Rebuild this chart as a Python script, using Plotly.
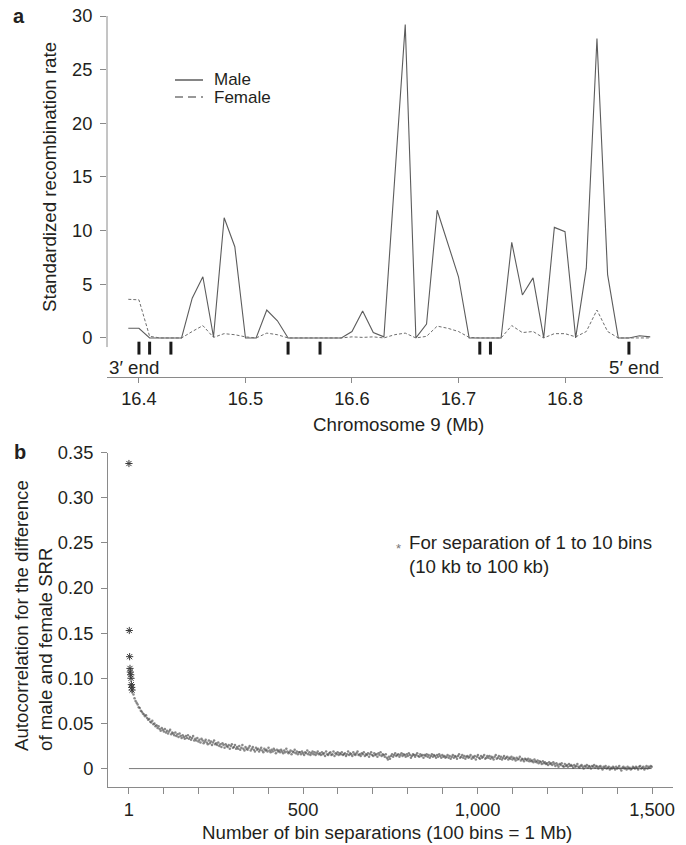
import plotly.graph_objects as go

# ---- panel a: standardized recombination rate, 10-kb bins on chromosome 9
positions_mb = [16.39, 16.40, 16.41, 16.42, 16.43, 16.44, 16.45, 16.46, 16.47, 16.48,
                16.49, 16.50, 16.51, 16.52, 16.53, 16.54, 16.55, 16.56, 16.57, 16.58,
                16.59, 16.60, 16.61, 16.62, 16.63, 16.64, 16.65, 16.66, 16.67, 16.68,
                16.69, 16.70, 16.71, 16.72, 16.73, 16.74, 16.75, 16.76, 16.77, 16.78,
                16.79, 16.80, 16.81, 16.82, 16.83, 16.84, 16.85, 16.86, 16.87, 16.88]
male_srr = [0.9, 0.9, 0, 0, 0, 0, 3.7, 5.7, 0.1, 11.2,
            8.5, 0, 0, 2.6, 1.6, 0, 0, 0, 0, 0,
            0, 0.6, 2.5, 0.5, 0.1, 14.7, 29.2, 0, 1.3, 11.9,
            8.8, 5.7, 0, 0, 0, 0, 8.9, 4.0, 5.6, 0,
            10.3, 9.9, 0, 6.5, 27.9, 5.9, 0, 0, 0.2, 0.1]
female_srr = [3.6, 3.55, 0.15, 0, 0, 0, 0.6, 1.15, 0.05, 0.4,
              0.3, 0.1, 0, 0.45, 0.3, 0, 0, 0, 0, 0,
              0, 0.1, 0.05, 0.1, 0, 0.3, 0.45, 0, 0.15, 1.1,
              0.9, 0.6, 0.05, 0, 0, 0, 1.15, 0.5, 0.6, 0,
              0.4, 0.4, 0.1, 0.6, 2.6, 0.6, 0, 0, 0, 0]
marker_positions_mb = [16.40, 16.41, 16.43, 16.54, 16.57, 16.72, 16.73, 16.86]
xticks_a = [16.4, 16.5, 16.6, 16.7, 16.8]
yticks_a = [0, 5, 10, 15, 20, 25, 30]

# ---- panel b: autocorrelation of (male - female) SRR vs bin separation
near_bins = [1, 2, 3, 4, 5, 6, 7, 8, 9, 10]
near_acf = [0.338, 0.153, 0.124, 0.111, 0.107, 0.104, 0.100, 0.093, 0.090, 0.087]
# separations 11, 14, 17, ... 1499 ; values in units of 0.001
dot_bins = list(range(11, 1500, 3))
dot_acf_milli = [
    85, 82, 78, 75, 73, 71, 68, 67, 64, 63, 61, 60, 58, 59, 56, 54, 55, 52, 51, 53,
    49, 50, 47, 48, 45, 47, 44, 42, 45, 43, 41, 44, 40, 42, 39, 41, 43, 38, 40, 39,
    37, 40, 36, 38, 35, 39, 36, 34, 37, 35, 33, 36, 34, 37, 33, 35, 32, 34, 36, 31,
    33, 31, 34, 30, 32, 29, 33, 31, 28, 30, 32, 29, 27, 31, 28, 30, 26, 29, 31, 27,
    28, 26, 29, 25, 27, 24, 28, 26, 23, 27, 25, 24, 26, 22, 25, 27, 23, 24, 26, 22,
    24, 22, 25, 21, 23, 26, 22, 20, 24, 22, 21, 23, 25, 20, 22, 24, 21, 19, 23, 21,
    22, 19, 21, 23, 20, 18, 22, 20, 21, 19, 23, 20, 18, 21, 19, 22, 20, 17, 21, 19,
    20, 18, 21, 19, 17, 20, 18, 22, 19, 17, 18, 20, 16, 19, 18, 21, 17, 19, 16, 18,
    18, 16, 19, 17, 15, 18, 17, 20, 16, 18, 15, 17, 19, 16, 18, 15, 17, 19, 16, 17,
    15, 18, 16, 17, 14, 19, 16, 15, 17, 18, 15, 16, 19, 14, 17, 16, 18, 15, 17, 16,
    18, 15, 16, 17, 14, 16, 19, 15, 17, 16, 14, 18, 16, 15, 17, 19, 15, 16, 14, 17,
    16, 18, 14, 16, 15, 17, 13, 16, 18, 15, 14, 17, 15, 16, 13, 17, 15, 18, 14, 16,
    15, 13, 16, 12, 10, 13, 11, 14, 16, 13, 15, 17, 14, 15, 16, 13, 15, 17, 14, 16,
    15, 13, 16, 14, 17, 15, 12, 14, 16, 15, 13, 15, 17, 14, 13, 16, 14, 15, 12, 15,
    14, 16, 13, 15, 12, 14, 16, 13, 15, 14, 12, 15, 13, 16, 14, 12, 15, 13, 14, 12,
    13, 15, 12, 14, 11, 13, 15, 12, 14, 13, 11, 14, 16, 12, 13, 15, 12, 14, 11, 13,
    14, 12, 13, 15, 11, 13, 12, 14, 10, 13, 15, 12, 11, 14, 12, 13, 15, 11, 12, 14,
    12, 14, 11, 13, 12, 10, 13, 15, 11, 12, 14, 11, 13, 10, 12, 14, 11, 12, 13, 10,
    12, 11, 13, 10, 12, 11, 9, 12, 10, 11, 13, 9, 11, 10, 8, 11, 10, 9, 11, 8,
    10, 8, 9, 7, 10, 8, 7, 9, 6, 8, 7, 5, 8, 6, 7, 5, 6, 4, 7, 5,
    6, 4, 7, 5, 3, 6, 4, 2, 5, 4, 6, 3, 2, 5, 3, 4, 2, 5, 3, 4,
    3, 1, 4, 2, 3, 5, 2, 1, 3, 4, 2, 0, 3, 2, 4, 1, 3, 2, 0, 3,
    2, 4, 1, 3, 2, 0, 2, 3, 1, -1, 2, 1, 3, 0, 1, 2, -1, 1, 0, 2,
    1, -1, 2, 0, 1, 3, 0, -2, 1, 2, 0, 1, -1, 2, 0, 1, -1, 0, 2, 1,
    0, 2, 1, -1, 2, 3, 0, 1, 2, -1, 1, 3, 0, 2, 1, 3, 2,
]
xticks_b = [1] + list(range(100, 1501, 100))
xlabels_b = {1: "1", 500: "500", 1000: "1,000", 1500: "1,500"}
yticks_b = [0, 0.05, 0.10, 0.15, 0.20, 0.25, 0.30, 0.35]
ylabels_b = ["0", "0.05", "0.10", "0.15", "0.20", "0.25", "0.30", "0.35"]

FONT = "Liberation Sans, Arial, Helvetica, sans-serif"
INK = "#231f20"
AXIS = "#8a8a8a"
TXT = 18.7
W, H = 686, 845
ML, MR, MT, MB = 107, 13, 16, 58


def px_x(px):
    return (px - ML) / (W - ML - MR)


def px_y(py):
    return (H - MB - py) / (H - MT - MB)


fig = go.Figure()

fig.add_trace(go.Scatter(x=positions_mb, y=male_srr, mode="lines",
                         line=dict(color="#5c5c5c", width=1.1), xaxis="x", yaxis="y"))
fig.add_trace(go.Scatter(x=positions_mb, y=female_srr, mode="lines",
                         line=dict(color="#6e6e6e", width=1, dash="3px,2px"), xaxis="x", yaxis="y"))
mx, my = [], []
for m in marker_positions_mb:
    mx += [m, m, None]
    my += [-0.35, -1.55, None]
fig.add_trace(go.Scatter(x=mx, y=my, mode="lines", line=dict(color="#1a1a1a", width=3),
                         xaxis="x", yaxis="y"))

fig.add_trace(go.Scatter(x=[dot_bins[0] - 10, dot_bins[-1]], y=[0, 0], mode="lines",
                         line=dict(color="#7a7a7a", width=1), xaxis="x2", yaxis="y2"))
fig.add_trace(go.Scatter(x=dot_bins, y=[v / 1000 for v in dot_acf_milli], mode="markers",
                         marker=dict(size=2.5, color="rgba(65,65,65,0.62)"),
                         xaxis="x2", yaxis="y2"))
fig.add_trace(go.Scatter(x=near_bins, y=near_acf, mode="markers",
                         marker=dict(symbol="asterisk-open", size=6, color="#3a3a3a",
                                     line=dict(color="#3a3a3a", width=1)),
                         xaxis="x2", yaxis="y2"))

tick_font = dict(family=FONT, size=18.3, color=INK)
common = dict(showgrid=False, zeroline=False, ticks="outside", tickcolor=AXIS,
              tickfont=tick_font, linecolor=AXIS, linewidth=1, automargin=False,
              ticklabeloverflow="allow")

fig.update_layout(
    width=W, height=H, showlegend=False, hovermode=False,
    plot_bgcolor="white", paper_bgcolor="white",
    margin=dict(l=ML, r=MR, t=MT, b=MB, autoexpand=False),
    font=dict(family=FONT, size=TXT, color=INK),
    xaxis=dict(domain=[0, px_x(663)], anchor="y", range=[16.37, 16.892],
               tickvals=xticks_a, ticktext=[f"{v:.1f}" for v in xticks_a],
               showline=True, ticklen=5, **common),
    yaxis=dict(domain=[px_y(377), 1], anchor="x", range=[-3.64, 30],
               tickvals=yticks_a, showline=False, ticklen=6, ticklabelstandoff=4, **common),
    xaxis2=dict(domain=[px_x(108), 1], anchor="y2", range=[-59, 1560],
                tickvals=xticks_b, ticktext=[xlabels_b.get(v, "") for v in xticks_b],
                showline=True, ticklen=6, **common),
    yaxis2=dict(domain=[0, px_y(452.7)], anchor="x2", range=[-0.0204, 0.35],
                tickvals=yticks_b, ticktext=ylabels_b, showline=True, ticklen=6,
                ticklabelstandoff=4, **common),
)

# detached y axis line of panel a (stops just below zero)
fig.add_shape(type="line", xref="x domain", yref="y", x0=0, x1=0, y0=-0.85, y1=30,
              line=dict(color=AXIS, width=1))

# panel a legend
fig.add_shape(type="line", xref="paper", yref="paper", x0=px_x(175), x1=px_x(203),
              y0=px_y(80), y1=px_y(80), line=dict(color="#333", width=1.2))
fig.add_shape(type="line", xref="paper", yref="paper", x0=px_x(175), x1=px_x(203),
              y0=px_y(97), y1=px_y(97), line=dict(color="#333", width=1.2, dash="8px,5px"))

ann = [
    dict(text="<b>a</b>", x=px_x(19), y=px_y(16), size=20),
    dict(text="<b>b</b>", x=px_x(20), y=px_y(452), size=20),
    dict(text="Male", x=px_x(212), y=px_y(79.5), xanchor="left", size=17),
    dict(text="Female", x=px_x(212), y=px_y(97.5), xanchor="left", size=17),
    dict(text="Standardized recombination rate", x=px_x(49.5), y=px_y(177.5), textangle=-90),
    dict(text="Autocorrelation for the difference<br>of male and female SRR",
         x=px_x(33), y=px_y(615), textangle=-90),
    dict(text="Chromosome 9 (Mb)", x=px_x(398), y=px_y(424)),
    dict(text="Number of bin separations (100 bins = 1 Mb)", x=px_x(387), y=px_y(832)),
    dict(text="3′ end", x=px_x(107), y=px_y(367), xanchor="left"),
    dict(text="5′ end", x=px_x(661), y=px_y(367), xanchor="right"),
    dict(text="*", x=px_x(398), y=px_y(548), size=13, color="#777"),
    dict(text="For separation of 1 to 10 bins<br>(10 kb to 100 kb)",
         x=px_x(407), y=px_y(554), xanchor="left"),
]
for a in ann:
    fig.add_annotation(
        text=a["text"], x=a["x"], y=a["y"], xref="paper", yref="paper",
        xanchor=a.get("xanchor", "center"), yanchor="middle",
        textangle=a.get("textangle", 0), showarrow=False, align="left",
        font=dict(family=FONT, size=a.get("size", TXT), color=a.get("color", INK)),
    )

# drop the browser's default 8 px body margin so the figure fills the window
fig.write_html("out.html", config={"displayModeBar": False},
               post_script="document.body.style.margin = '0';")
